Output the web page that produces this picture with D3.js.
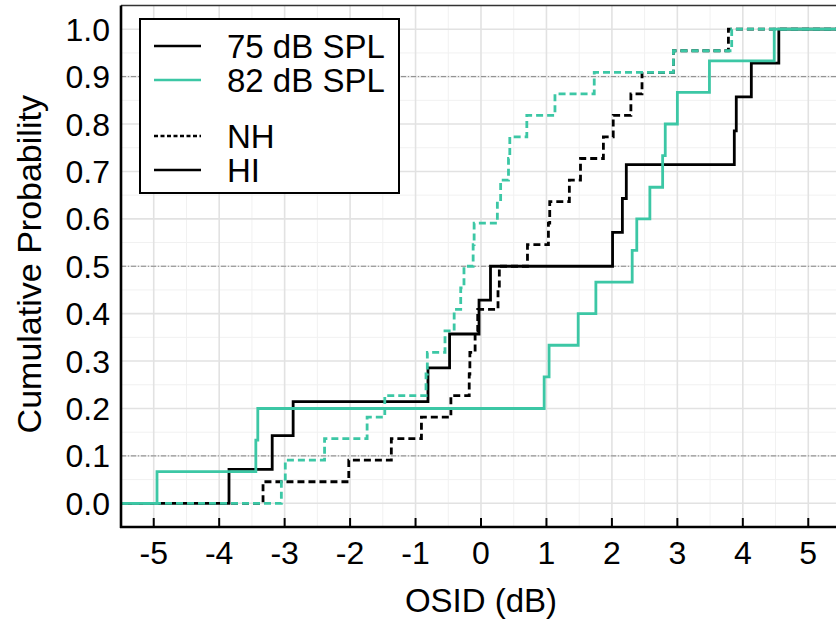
<!DOCTYPE html>
<html>
<head>
<meta charset="utf-8">
<script src="https://cdn.jsdelivr.net/npm/d3@7"></script>
<style>
  body { margin: 0; background: #fff; }
  text { font-family: "Liberation Sans", Arial, Helvetica, sans-serif; fill: #000; }
</style>
</head>
<body>
<div id="chart"></div>
<script>
const hi75 = [-3.85, -3.19, -2.87, -0.81, -0.48, -0.03, 0.145, 2.01, 2.16, 2.22, 3.87, 3.90, 4.13, 4.55];
const hi82 = [-4.95, -3.44, -3.41, 0.965, 1.04, 1.485, 1.755, 2.31, 2.38, 2.58, 2.775, 2.815, 3.0, 3.49, 4.48];
const nh75 = [-3.33, -2.02, -1.37, -0.91, -0.46, -0.18, -0.17, -0.09, -0.05, 0.26, 0.28, 0.71, 1.03, 1.05,
              1.35, 1.52, 1.87, 2.02, 2.29, 2.46, 2.94, 3.78];
const nh82 = [-3.05, -2.99, -2.39, -1.74, -1.47, -0.84, -0.82, -0.55, -0.41, -0.31, -0.26, -0.12, -0.105,
              0.25, 0.30, 0.42, 0.44, 0.70, 1.13, 1.73, 2.94, 3.83];

const xTicks = [-5, -4, -3, -2, -1, 0, 1, 2, 3, 4, 5];
const yTicks = [0, 0.1, 0.2, 0.3, 0.4, 0.5, 0.6, 0.7, 0.8, 0.9, 1.0];
const refLevels = [0.1, 0.5, 0.9];
const xDomain = [-5.5, 5.5];
const yDomain = [-0.05, 1.05];

const green = "#3cc7a5";

// drawing order: bottom -> top
const series = [
    { values: hi75, color: "#000", dash: null },
    { values: nh75, color: "#000", dash: "7,4" },
    { values: nh82, color: green, dash: "7,4" },
    { values: hi82, color: green, dash: null }
];

const legendItems = [
    { label: "75 dB SPL", color: "#000", dash: null, y: 46 },
    { label: "82 dB SPL", color: green, dash: null, y: 80 },
    { label: "NH", color: "#000", dash: "4,2.5", y: 136 },
    { label: "HI", color: "#000", dash: null, y: 170 }
];

const width = 836, height = 623;
const plot = { left: 121, right: 841, top: 5.5, bottom: 527 };

const svg = d3.select("#chart").append("svg")
    .attr("width", width)
    .attr("height", height);

svg.append("rect").attr("width", width).attr("height", height).attr("fill", "#fff");

const x = d3.scaleLinear().domain(xDomain).range([plot.left, plot.right]);
const y = d3.scaleLinear().domain(yDomain).range([plot.bottom, plot.top]);

const g = svg.append("g");

// minor grid
const xMinor = d3.range(-5.5, 5.51, 0.5).filter(v => !Number.isInteger(v));
const yMinor = d3.range(-0.05, 1.06, 0.05).map(v => +v.toFixed(2)).filter(v => Math.round(v * 100) % 10 !== 0);
g.selectAll(".xminor").data(xMinor).join("line")
    .attr("x1", d => x(d)).attr("x2", d => x(d))
    .attr("y1", plot.top).attr("y2", plot.bottom)
    .attr("stroke", "#f1f1f1").attr("stroke-width", 1);
g.selectAll(".yminor").data(yMinor).join("line")
    .attr("x1", plot.left).attr("x2", plot.right)
    .attr("y1", d => y(d)).attr("y2", d => y(d))
    .attr("stroke", "#f1f1f1").attr("stroke-width", 1);

// major grid
g.selectAll(".xmajor").data(xTicks).join("line")
    .attr("x1", d => x(d)).attr("x2", d => x(d))
    .attr("y1", plot.top).attr("y2", plot.bottom)
    .attr("stroke", "#e2e2e2").attr("stroke-width", 1.6);
g.selectAll(".ymajor").data(yTicks).join("line")
    .attr("x1", plot.left).attr("x2", plot.right)
    .attr("y1", d => y(d)).attr("y2", d => y(d))
    .attr("stroke", "#e2e2e2").attr("stroke-width", 1.6);

// reference levels (dash-dot)
g.selectAll(".ref").data(refLevels).join("line")
    .attr("x1", plot.left).attr("x2", plot.right)
    .attr("y1", d => y(d)).attr("y2", d => y(d))
    .attr("stroke", "#8a8a8a").attr("stroke-width", 1)
    .attr("stroke-dasharray", "5,2,1,2");

// ECDF stairs
const line = d3.line()
    .x(d => x(d[0]))
    .y(d => y(d[1]))
    .curve(d3.curveStepAfter);

function ecdfPoints(values) {
    const v = values.slice().sort((a, b) => a - b);
    const n = v.length;
    return [[xDomain[0], 0], ...v.map((d, i) => [d, (i + 1) / n]), [xDomain[1], 1]];
}

g.selectAll(".cdf").data(series).join("path")
    .attr("d", d => line(ecdfPoints(d.values)))
    .attr("fill", "none")
    .attr("stroke", d => d.color)
    .attr("stroke-width", 2.8)
    .attr("stroke-dasharray", d => d.dash);

// frame: thin top/right, thick left/bottom
g.append("line").attr("x1", plot.left).attr("x2", plot.right)
    .attr("y1", plot.top).attr("y2", plot.top)
    .attr("stroke", "#333").attr("stroke-width", 1.5);
g.append("line").attr("x1", plot.right).attr("x2", plot.right)
    .attr("y1", plot.top).attr("y2", plot.bottom)
    .attr("stroke", "#333").attr("stroke-width", 1.5);

// x axis
const xAxis = svg.append("g").attr("transform", `translate(0,${plot.bottom})`);
xAxis.append("line").attr("x1", plot.left - 1).attr("x2", plot.right)
    .attr("stroke", "#000").attr("stroke-width", 2.6);
xAxis.selectAll(".tick").data(xTicks).join("line")
    .attr("x1", d => x(d)).attr("x2", d => x(d))
    .attr("y1", 0).attr("y2", -9)
    .attr("stroke", "#000").attr("stroke-width", 2);
xAxis.selectAll(".lbl").data(xTicks).join("text")
    .attr("x", d => x(d)).attr("y", 37)
    .attr("text-anchor", "middle")
    .attr("font-size", 32)
    .text(d => d);

// y axis
const yAxis = svg.append("g");
yAxis.append("line").attr("x1", plot.left).attr("x2", plot.left)
    .attr("y1", plot.top).attr("y2", plot.bottom + 1)
    .attr("stroke", "#000").attr("stroke-width", 2.6);
yAxis.selectAll(".lbl").data(yTicks).join("text")
    .attr("x", plot.left - 11).attr("y", d => y(d))
    .attr("dy", "0.36em")
    .attr("text-anchor", "end")
    .attr("font-size", 32)
    .text(d => d.toFixed(1));

// axis titles
svg.append("text")
    .attr("x", x(0)).attr("y", 612)
    .attr("text-anchor", "middle")
    .attr("font-size", 33)
    .text("OSID (dB)");
svg.append("text")
    .attr("transform", `translate(41,${(plot.top + plot.bottom) / 2 - 2}) rotate(-90)`)
    .attr("text-anchor", "middle")
    .attr("font-size", 34)
    .text("Cumulative Probability");

// legend
const legend = svg.append("g");
legend.append("rect")
    .attr("x", 140).attr("y", 19).attr("width", 259).attr("height", 174)
    .attr("fill", "#fff").attr("stroke", "#000").attr("stroke-width", 2);
legend.selectAll(".ll").data(legendItems).join("line")
    .attr("x1", 154).attr("x2", 201)
    .attr("y1", d => d.y).attr("y2", d => d.y)
    .attr("stroke", d => d.color).attr("stroke-width", 2.4)
    .attr("stroke-dasharray", d => d.dash);
legend.selectAll(".lt").data(legendItems).join("text")
    .attr("x", 227).attr("y", d => d.y)
    .attr("dy", "0.36em")
    .attr("font-size", 33)
    .text(d => d.label);
</script>
</body>
</html>
